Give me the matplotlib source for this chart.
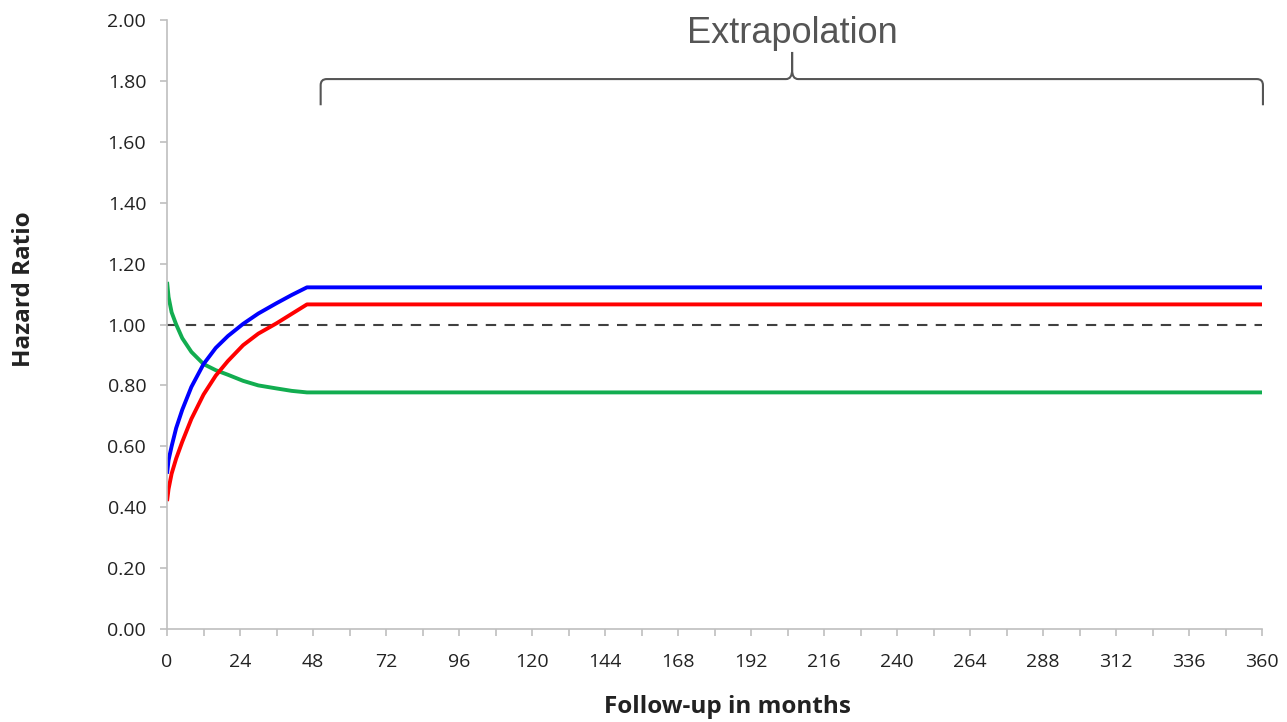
import matplotlib
matplotlib.use('Agg')
import matplotlib.pyplot as plt
from matplotlib.path import Path
from matplotlib.patches import PathPatch

months = [0, 0.5, 1.5, 3, 5, 8, 12, 16, 20, 25, 30, 36, 41, 46, 360]
hr_blue = [0.51, 0.555, 0.60, 0.66, 0.72, 0.795, 0.87, 0.923, 0.962, 1.002,
           1.036, 1.07, 1.097, 1.122, 1.122]
hr_red = [0.42, 0.46, 0.51, 0.56, 0.615, 0.69, 0.77, 0.832, 0.88, 0.932,
          0.97, 1.004, 1.035, 1.066, 1.066]
hr_green = [1.14, 1.09, 1.04, 1.00, 0.955, 0.91, 0.87, 0.85, 0.835, 0.815,
            0.80, 0.79, 0.782, 0.777, 0.777]
ref_x = [0, 360]
ref_y = [1.0, 1.0]
x_ticks = list(range(0, 361, 24))
y_ticks = [0.0, 0.2, 0.4, 0.6, 0.8, 1.0, 1.2, 1.4, 1.6, 1.8, 2.0]

fig = plt.figure(figsize=(12.87, 7.22), dpi=100)
ax = fig.add_axes([0.1298, 0.1288, 0.8508, 0.8435])

ax.plot(ref_x, ref_y, color='#404040', lw=1.5, dashes=(5, 4))
ax.plot(months, hr_green, color='#12ad50', lw=2.8, solid_capstyle='butt')
ax.plot(months, hr_red, color='#ff0000', lw=2.8, solid_capstyle='butt')
ax.plot(months, hr_blue, color='#0000ff', lw=2.8, solid_capstyle='butt')

ax.set_xlim(0, 360)
ax.set_ylim(0, 2.0)
ax.set_xticks(x_ticks)
ax.set_xticks(range(0, 361, 12), minor=True)
ax.set_yticks(y_ticks)
ax.set_yticklabels(['%.2f' % v for v in y_ticks])
for s in ['top', 'right']:
    ax.spines[s].set_visible(False)
for s in ['left', 'bottom']:
    ax.spines[s].set_color('#bfbfbf')
    ax.spines[s].set_linewidth(1.2)
ax.tick_params(which='both', direction='out', length=5, color='#bfbfbf', width=1.2)
ax.tick_params(axis='y', labelsize=14, labelcolor='#222222', pad=10)
ax.tick_params(axis='x', labelsize=14, labelcolor='#222222', pad=12)
for lab in ax.get_xticklabels() + ax.get_yticklabels():
    lab.set_family('Open Sans')

fig.text(0.019, 0.60, 'Hazard Ratio', rotation=90, ha='center', va='center',
         fontsize=17.5, fontweight='bold', family='Open Sans', color='#222222')
fig.text(0.565, 0.021, 'Follow-up in months', ha='center', va='center',
         fontsize=17.5, fontweight='bold', family='Open Sans', color='#222222')

# brace over the extrapolated period
x0, x1, xm = 50.5, 360.3, 205.5
yb, yt, ytip = 1.72, 1.806, 1.895
r = 2.0
verts = [(x0, yb), (x0, yt - 0.02), (x0, yt), (x0 + r, yt),
         (xm - r, yt), (xm, yt), (xm, yt + 0.03),
         (xm, ytip)]
codes = [Path.MOVETO, Path.LINETO, Path.CURVE3, Path.CURVE3,
         Path.LINETO, Path.CURVE3, Path.CURVE3, Path.LINETO]
verts2 = [(xm, ytip), (xm, yt + 0.03), (xm, yt), (xm + r, yt),
          (x1 - r, yt), (x1, yt), (x1, yt - 0.02), (x1, yb)]
codes2 = [Path.MOVETO, Path.LINETO, Path.CURVE3, Path.CURVE3,
          Path.LINETO, Path.CURVE3, Path.CURVE3, Path.LINETO]
for v, c in [(verts, codes), (verts2, codes2)]:
    ax.add_patch(PathPatch(Path(v, c), fill=False, edgecolor='#555555',
                           lw=1.5, clip_on=False))
ax.text(xm, 1.957, 'Extrapolation', ha='center', va='center', fontsize=26,
        family='Liberation Sans', color='#555555', clip_on=False)

fig.savefig('out.png', dpi=100)
